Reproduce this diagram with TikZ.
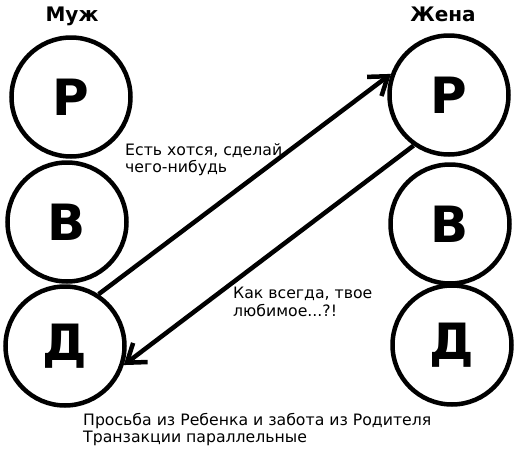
\documentclass[tikz,border=0pt]{standalone}
\usepackage{fontspec}
\setmainfont{DejaVu Sans}
\usepackage{tikz}
\usetikzlibrary{arrows.meta,positioning}

\begin{document}
\begin{tikzpicture}[
  x=1pt, y=-1pt,
  every node/.style={font=\fontsize{15.7}{17.5}\selectfont, text=black},
  ego/.style={circle, draw, line width=4.5pt, minimum size=119pt, inner sep=0pt,
    font=\fontsize{50}{50}\selectfont\bfseries},
  who/.style={font=\fontsize{20}{20}\selectfont\bfseries},
  msg/.style={align=left, anchor=north west, inner sep=0pt},
  >={Straight Barb[length=17pt, width=24pt]},
]
  \useasboundingbox (0,0) rectangle (531,453);

  %% Husband (left column)
  \node[ego] (mP) at (71,97)  {Р};
  \node[ego] (mB) at (67,222) {В};
  \node[ego] (mD) at (65,346) {Д};
  \node[who] (muzh) at (72,16) {Муж};

  %% Wife (right column)
  \node[ego] (wP) at (449,95)  {Р};
  \node[ego] (wB) at (450,224) {В};
  \node[ego] (wD) at (452,345) {Д};
  \node[who] (zhena) at (443,14) {Жена};

  %% Transactions
  \draw[->, line width=4.5pt] (mD.57) -- (wP.160);
  \draw[->, line width=4.5pt] (wP.235) -- (mD.-18);

  %% Messages
  \node[msg] (ask) at (125,143) {Есть хотся, сделай\\чего-нибудь};
  \node[msg] (care) at (233,287) {Как всегда, твое\\любимое...?!};
  \node[msg] (note) at (83,413)
    {Просьба из Ребенка и забота из Родителя\\Транзакции параллельные};
\end{tikzpicture}
\end{document}
